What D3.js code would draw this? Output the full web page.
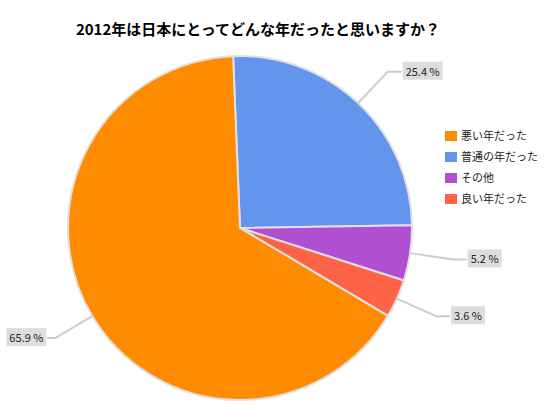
<!DOCTYPE html>
<html><head><meta charset="utf-8">
<script src="https://cdn.jsdelivr.net/npm/d3@7"></script>
<style>body{margin:0;background:#fff}text{font-family:"Noto Sans CJK JP",Arial,sans-serif}</style>
</head><body>
<svg id="chart" width="545" height="406"></svg>
<script>
// 凡例の順番
var LEGEND=["悪い年だった","普通の年だった","その他","良い年だった"];
// 円の中の順番（上から時計回り）
var CATS=["普通の年だった","その他","良い年だった","悪い年だった"];
var VALUES=[25.4,5.2,3.6,65.9];
var COLORS=["#6495ed","#b050d0","#ff6347","#ff8c00"];

var svg=d3.select("#chart");
var cx=240,cy=228,R=172;
var start=-2.3*Math.PI/180;
var color=d3.scaleOrdinal().domain(CATS).range(COLORS);

svg.append("text").attr("x",258).attr("y",35).attr("text-anchor","middle")
    .attr("font-size",15).attr("font-weight","bold").text("2012年は日本にとってどんな年だったと思いますか？");

var pie=d3.pie().sort(null).value(function(d){return d.v;})
    .startAngle(start).endAngle(start+2*Math.PI);
var data=pie(CATS.map(function(c,i){return {c:c,v:VALUES[i]};}));
var arc=d3.arc().innerRadius(0).outerRadius(R);
var g=svg.append("g").attr("transform","translate("+cx+","+cy+")");
g.selectAll("path").data(data).enter().append("path")
    .attr("d",arc).attr("fill",function(d){return color(d.data.c);})
    .attr("stroke","#e0e0e0").attr("stroke-width",2);

// ラベル
data.forEach(function(d){
    var a=(d.startAngle+d.endAngle)/2;
    var sx=Math.sin(a),sy=-Math.cos(a);
    var p0=[sx*R,sy*R], p1=[sx*R*1.25,sy*R*1.25];
    var right=sx>0;
    var p2=[p1[0]+(right?14:-8),p1[1]];
    g.append("polyline").attr("points",[p0,p1,p2].map(function(p){return p.join(",");}).join(" "))
        .attr("fill","none").attr("stroke","#ccc").attr("stroke-width",2);
    var txt=d.data.v.toFixed(1)+" %";
    var t=g.append("text").attr("font-size",11).attr("fill","#222")
        .attr("x",right?p2[0]+4:p2[0]-4).attr("y",p2[1]+4)
        .attr("text-anchor",right?"start":"end").text(txt);
    var b=t.node().getBBox();
    g.insert("rect","text").attr("x",b.x-3).attr("y",b.y-1).attr("width",b.width+6).attr("height",b.height+2)
        .attr("fill","#ddd");
});

// 凡例
var lg=svg.append("g").attr("transform","translate(445,131)");
LEGEND.forEach(function(c,i){
    lg.append("rect").attr("x",0).attr("y",i*21).attr("width",12).attr("height",10).attr("fill",color(c));
    lg.append("text").attr("x",16).attr("y",i*21+9).attr("font-size",11).attr("fill","#222").text(c);
});
</script>
</body></html>
